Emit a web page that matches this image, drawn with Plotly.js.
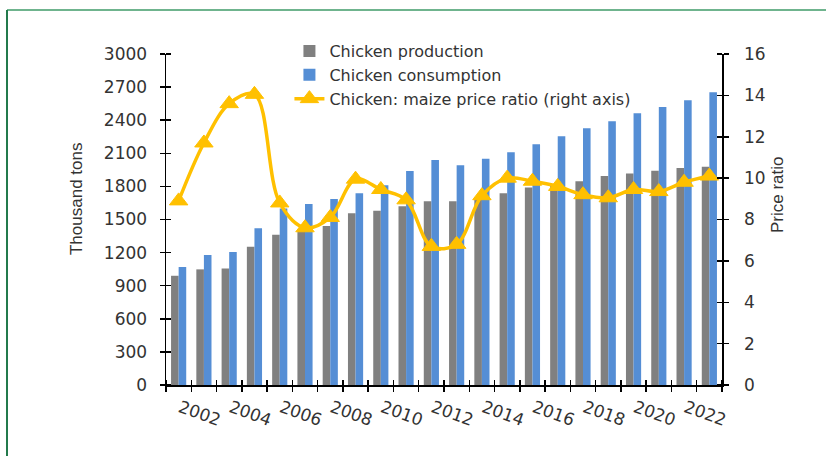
<!DOCTYPE html>
<html>
<head>
<meta charset="utf-8">
<script src="https://cdn.plot.ly/plotly-3.0.1.min.js"></script>
<style>
  html, body { margin: 0; padding: 0; background: #ffffff; }
  #wrap { position: relative; width: 826px; height: 456px; overflow: hidden; }
  #chart { position: absolute; left: 0; top: 0; width: 826px; height: 456px; }
  .bt { position: absolute; left: 7px; top: 9px; width: 819px; height: 2px; background: #6fb48e; pointer-events: none; }
  .bl { position: absolute; left: 6px; top: 10px; width: 2px; height: 446px; background: #237a4c; pointer-events: none; }
</style>
</head>
<body>
<div id="wrap">
  <div id="chart"></div>
  <div class="bt"></div>
  <div class="bl"></div>
</div>
<script>
// ---- data ----
const years = [2001, 2002, 2003, 2004, 2005, 2006, 2007, 2008, 2009, 2010, 2011,
               2012, 2013, 2014, 2015, 2016, 2017, 2018, 2019, 2020, 2021, 2022];
const production = [990, 1048, 1057, 1254, 1362, 1400, 1440, 1556, 1580, 1620, 1665,
                    1665, 1705, 1737, 1790, 1810, 1846, 1894, 1918, 1942, 1967, 1978];
const consumption = [1069, 1178, 1205, 1420, 1600, 1640, 1686, 1737, 1810, 1940, 2040,
                     1991, 2051, 2109, 2181, 2254, 2326, 2390, 2462, 2519, 2580, 2653];
const priceRatio = [8.9, 11.7, 13.6, 14.05, 8.8, 7.6, 8.1, 9.95, 9.45, 8.95, 6.7,
                    6.8, 9.15, 10.0, 9.85, 9.6, 9.2, 9.05, 9.45, 9.35, 9.8, 10.1];
const labelYears = [2002, 2004, 2006, 2008, 2010, 2012, 2014, 2016, 2018, 2020, 2022];
const seriesNames = ['Chicken production', 'Chicken consumption', 'Chicken: maize price ratio (right axis)'];
const leftTitle = 'Thousand tons';
const rightTitle = 'Price ratio';

const txt = '#333333';
const hFont = 'DejaVu Sans, sans-serif';
const tFont = 'Liberation Sans, Arial, sans-serif';

// tick marks sit on the category boundaries; a label is attached to the boundary left of its year
const boundaries = years.map(y => y - 0.5).concat([years[years.length - 1] + 0.5]);
const boundaryText = boundaries.map(b => labelYears.includes(b + 0.5) ? String(b + 0.5) : '');

const traces = [
  { type: 'bar', name: seriesNames[0], x: years, y: production,
    marker: { color: '#808080' }, yaxis: 'y' },
  { type: 'bar', name: seriesNames[1], x: years, y: consumption,
    marker: { color: '#558ed5' }, yaxis: 'y' },
  { type: 'scatter', mode: 'lines+markers', name: seriesNames[2], x: years, y: priceRatio,
    yaxis: 'y2',
    line: { color: '#ffc000', width: 3.5, shape: 'spline', smoothing: 1 },
    marker: { symbol: 'triangle-up', size: 16, color: '#ffc000', line: { color: '#ffc000', width: 1 } } }
];

const tk = { ticklen: 5, tickwidth: 1.5, tickcolor: '#000' };
const layout = {
  width: 826, height: 456,
  margin: { l: 166, r: 104, t: 54, b: 71 },
  paper_bgcolor: '#ffffff', plot_bgcolor: '#ffffff',
  barmode: 'group', bargap: 0.4, bargroupgap: 0,
  showlegend: true,
  legend: {
    x: 0.222, y: 1.06, xanchor: 'left', yanchor: 'top',
    bgcolor: 'rgba(0,0,0,0)', borderwidth: 0,
    font: { family: hFont, size: 16, color: txt },
    traceorder: 'normal', itemwidth: 30
  },
  xaxis: Object.assign({
    range: [boundaries[0], boundaries[boundaries.length - 1]],
    tickmode: 'array', tickvals: boundaries, ticktext: boundaryText,
    ticks: 'outside', showline: true, linecolor: '#000', linewidth: 1.5,
    showgrid: false, zeroline: false, tickangle: 20, ticklabelshift: -11, ticklabelstandoff: 0,
    tickfont: { family: hFont, size: 17, color: txt },
    minor: Object.assign({ tick0: boundaries[0] + 1e-4, dtick: 1, ticks: 'inside', showgrid: false }, tk)
  }, tk),
  yaxis: Object.assign({
    range: [0, 3000], dtick: 300, tick0: 0,
    ticks: 'outside', showline: true, linecolor: '#000', linewidth: 1.5,
    showgrid: false, zeroline: false, ticklabelstandoff: 9,
    tickfont: { family: hFont, size: 17, color: txt },
    minor: Object.assign({ tick0: 0.01, dtick: 300, ticks: 'inside', showgrid: false }, tk)
  }, tk),
  yaxis2: Object.assign({
    overlaying: 'y', anchor: 'x', side: 'right', range: [0, 16], dtick: 2, tick0: 0,
    ticks: 'outside', showline: true, linecolor: '#000', linewidth: 1.5,
    showgrid: false, zeroline: false, ticklabelstandoff: 12,
    tickfont: { family: hFont, size: 17, color: txt },
    minor: Object.assign({ tick0: 0.0001, dtick: 2, ticks: 'inside', showgrid: false }, tk)
  }, tk),
  annotations: [
    { text: leftTitle, xref: 'paper', yref: 'paper', x: -0.160, y: 0.562,
      xanchor: 'center', yanchor: 'middle', textangle: -90, showarrow: false,
      font: { family: tFont, size: 17, color: txt } },
    { text: rightTitle, xref: 'paper', yref: 'paper', x: 1.099, y: 0.574,
      xanchor: 'center', yanchor: 'middle', textangle: -90, showarrow: false,
      font: { family: tFont, size: 17, color: txt } }
  ]
};

Plotly.newPlot('chart', traces, layout, { displayModeBar: false, staticPlot: true });
</script>
</body>
</html>
